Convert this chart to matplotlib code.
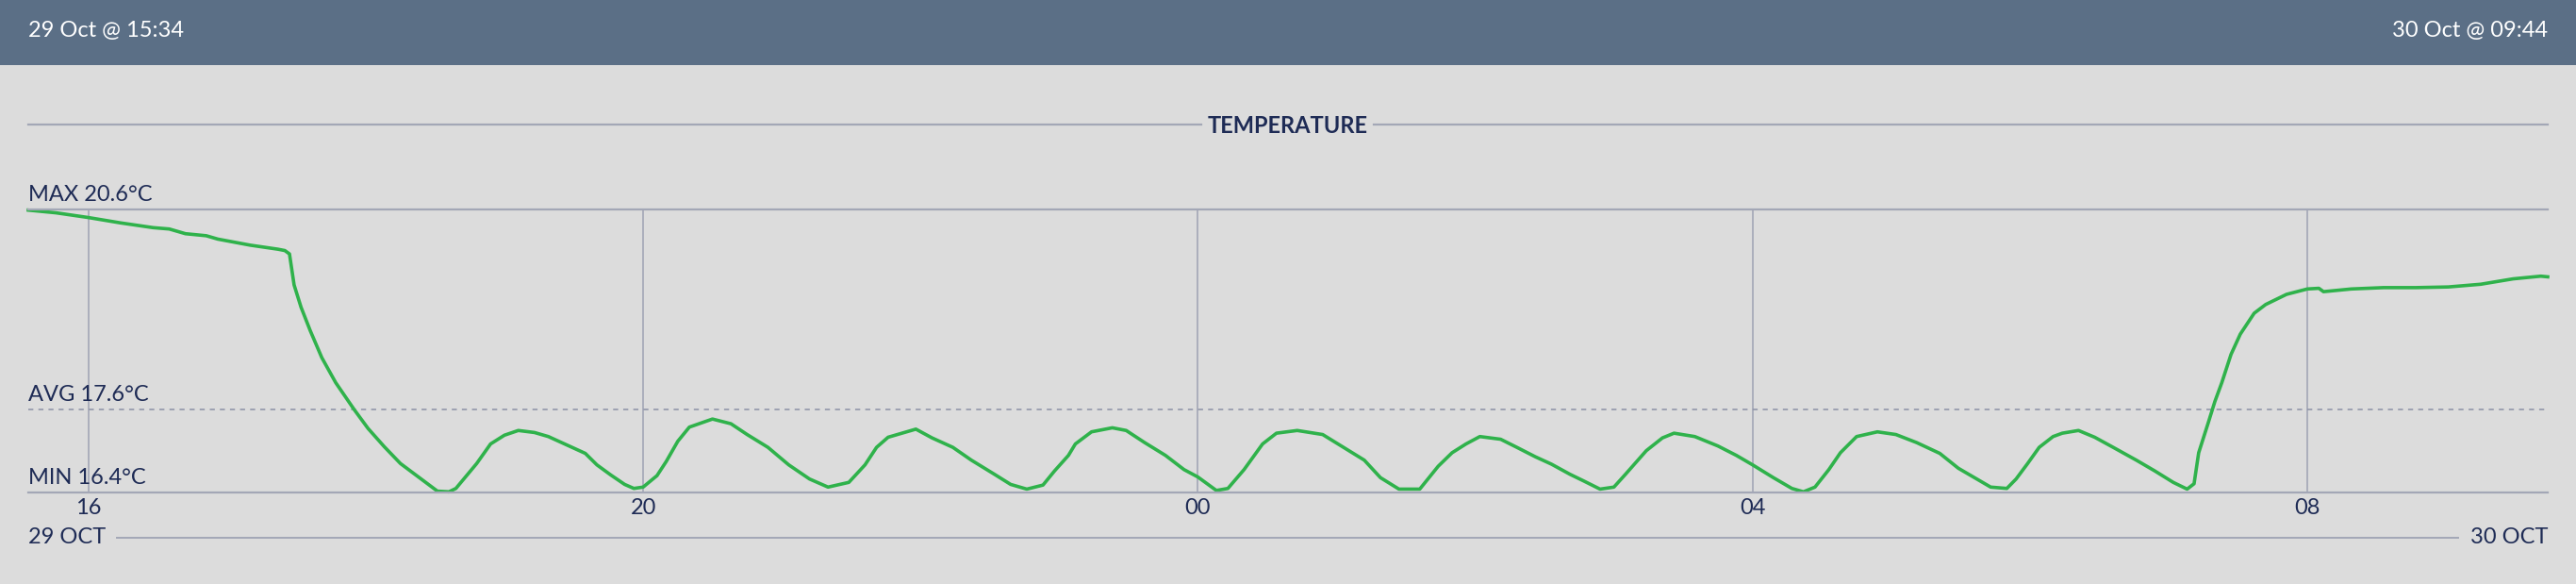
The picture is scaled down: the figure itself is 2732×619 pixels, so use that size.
import matplotlib
matplotlib.use("Agg")
import matplotlib.pyplot as plt
from matplotlib.patches import Rectangle
from matplotlib.lines import Line2D
import pandas as pd

# readings, 29 Oct 15:34 -> 30 Oct 09:44 (clock times roll over at midnight)
times = [
    "15:34", "15:46", "16:00", "16:14", "16:28", "16:35", "16:42", "16:51", "16:56",
    "17:10", "17:22", "17:25", "17:27", "17:29", "17:32", "17:36", "17:41", "17:47",
    "17:55", "18:01", "18:08", "18:15", "18:24", "18:31", "18:36", "18:39", "18:48",
    "18:54", "19:00", "19:06", "19:13", "19:19", "19:26", "19:35", "19:40", "19:46",
    "19:52", "19:56", "20:00", "20:06", "20:10", "20:15", "20:20", "20:30", "20:38",
    "20:45", "20:54", "21:03", "21:12", "21:20", "21:29", "21:36", "21:41", "21:46",
    "21:58", "22:05", "22:14", "22:22", "22:32", "22:39", "22:46", "22:53", "22:58",
    "23:04", "23:07", "23:14", "23:23", "23:29", "23:37", "23:46", "23:54",
    "00:00", "00:08", "00:13", "00:20", "00:28", "00:34", "00:43", "00:54", "01:03",
    "01:12", "01:19", "01:27", "01:36", "01:44", "01:50", "01:56", "02:02", "02:11",
    "02:18", "02:26", "02:33", "02:41", "02:47", "02:54", "03:00", "03:05", "03:14",
    "03:21", "03:26", "03:35", "03:45", "03:53", "04:00", "04:09", "04:17", "04:22",
    "04:27", "04:33", "04:38", "04:45", "04:54", "05:02", "05:11", "05:21", "05:29",
    "05:37", "05:43", "05:50", "05:54", "05:59", "06:04", "06:10", "06:14", "06:21",
    "06:28", "06:36", "06:46", "06:54", "07:02", "07:08", "07:11", "07:13", "07:17",
    "07:20", "07:23", "07:27", "07:31", "07:37", "07:42", "07:51", "08:00", "08:05",
    "08:07", "08:19", "08:33", "08:47", "09:01", "09:15", "09:29", "09:41", "09:44",
]
temps = [
    20.59, 20.55, 20.48, 20.40, 20.33, 20.31, 20.24, 20.21, 20.16,
    20.07, 20.01, 19.99, 19.94, 19.48, 19.15, 18.80, 18.40, 18.03,
    17.63, 17.35, 17.08, 16.83, 16.60, 16.42, 16.41, 16.46, 16.83,
    17.12, 17.25, 17.32, 17.29, 17.23, 17.12, 16.98, 16.81, 16.66,
    16.52, 16.46, 16.48, 16.65, 16.86, 17.16, 17.37, 17.49, 17.42,
    17.26, 17.07, 16.81, 16.60, 16.48, 16.55, 16.81, 17.07, 17.22,
    17.34, 17.21, 17.07, 16.88, 16.67, 16.52, 16.45, 16.51, 16.72,
    16.95, 17.12, 17.30, 17.36, 17.32, 17.14, 16.95, 16.74,
    16.63, 16.43, 16.46, 16.74, 17.12, 17.28, 17.32, 17.26, 17.07,
    16.88, 16.62, 16.45, 16.45, 16.79, 16.99, 17.12, 17.23, 17.19,
    17.07, 16.93, 16.82, 16.67, 16.57, 16.45, 16.48, 16.67, 17.02,
    17.21, 17.28, 17.23, 17.09, 16.95, 16.81, 16.62, 16.46, 16.41,
    16.48, 16.74, 16.99, 17.23, 17.30, 17.26, 17.14, 16.98, 16.76,
    16.60, 16.48, 16.46, 16.60, 16.83, 17.07, 17.23, 17.28, 17.32,
    17.22, 17.07, 16.88, 16.72, 16.55, 16.45, 16.53, 16.99, 17.42,
    17.75, 18.03, 18.45, 18.75, 19.06, 19.19, 19.34, 19.42, 19.43,
    19.38, 19.42, 19.44, 19.44, 19.45, 19.49, 19.57, 19.61, 19.60,
]
start_day = "2023-10-29"
tick_labels = ["16", "20", "00", "04", "08"]
max_temp = 20.6
min_temp = 16.4
avg_temp = 17.63
title = "TEMPERATURE"

# build timestamps, moving to the next day when the clock wraps
stamps = []
day = pd.Timestamp(start_day)
prev = None
for t in times:
    hh, mm = map(int, t.split(":"))
    if prev is not None and hh < prev:
        day = day + pd.Timedelta(days=1)
    prev = hh
    stamps.append(day + pd.Timedelta(hours=hh, minutes=mm))

NAVY = "#1e2b55"
GREY = "#a3a7b6"
BG = "#dcdcdc"
HEAD = "#5b6f86"
GREEN = "#2fb24b"
FONT = "Lato"

W, H = 2732, 619
fig = plt.figure(figsize=(W / 100, H / 100), dpi=100)
fig.patch.set_facecolor(BG)


def fx(x):
    return x / W


def fy(y):
    return 1 - y / H


# header band
fig.add_artist(Rectangle((0, fy(69)), 1, 69 / H, transform=fig.transFigure,
                         facecolor=HEAD, edgecolor="none"))
fig.text(fx(30), fy(33), stamps[0].strftime("%d %b @ %H:%M"), color="white",
         fontsize=17, family=FONT, va="center", ha="left")
fig.text(fx(2702), fy(33), stamps[-1].strftime("%d %b @ %H:%M"), color="white",
         fontsize=17, family=FONT, va="center", ha="right")

# title with rules either side
fig.text(0.5, fy(133), title, color=NAVY, fontsize=17, family=FONT,
         weight="bold", ha="center", va="center")
fig.add_artist(Line2D([fx(30), fx(1274)], [fy(132)] * 2, color=GREY, lw=1.6))
fig.add_artist(Line2D([fx(1457), fx(2702)], [fy(132)] * 2, color=GREY, lw=1.6))

# main plot
ax = fig.add_axes([fx(30), fy(522), (2702 - 30) / W, 300 / H])
ax.set_facecolor("none")
ax.set_xlim(stamps[0], stamps[-1])
ax.set_ylim(min_temp, max_temp)

for s in ["left", "right"]:
    ax.spines[s].set_visible(False)
for s in ["top", "bottom"]:
    ax.spines[s].set_color(GREY)
    ax.spines[s].set_linewidth(1.6)

ticks = [t for t in pd.date_range(stamps[0].ceil("h"), stamps[-1], freq="h")
         if t.strftime("%H") in tick_labels]
ax.set_xticks(ticks)
ax.set_xticklabels([t.strftime("%H") for t in ticks])
ax.tick_params(axis="x", length=0, pad=4, labelsize=17, labelcolor=NAVY)
for lab in ax.get_xticklabels():
    lab.set_family(FONT)
ax.set_yticks([])
ax.grid(axis="x", color=GREY, lw=1.2)
ax.set_axisbelow(True)

ax.axhline(avg_temp, color="#8c91a6", lw=1.1, dashes=(3.5, 3.5))

ax.plot(stamps, temps, color=GREEN, lw=2.6, clip_on=False,
        solid_joinstyle="round")

for name, val in [("MAX", max_temp), ("AVG", avg_temp), ("MIN", min_temp)]:
    ax.annotate(f"{name} {val:.1f}°C", xy=(0, val),
                xycoords=("axes fraction", "data"), xytext=(0, 6.5),
                textcoords="offset points", va="baseline", ha="left",
                fontsize=17, color=NAVY, family=FONT)

# date rule below the axis
fig.add_artist(Line2D([fx(124), fx(2607)], [fy(570)] * 2, color=GREY, lw=1.4))
fig.text(fx(30), fy(569), stamps[0].strftime("%d %b").upper(), color=NAVY,
         fontsize=17, family=FONT, va="center", ha="left")
fig.text(fx(2702), fy(569), stamps[-1].strftime("%d %b").upper(), color=NAVY,
         fontsize=17, family=FONT, va="center", ha="right")

fig.savefig("out.png", dpi=100, facecolor=fig.get_facecolor())
